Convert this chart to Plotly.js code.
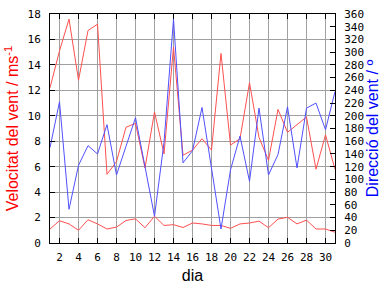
<!DOCTYPE html>
<html>
<head>
<meta charset="utf-8">
<script src="https://cdn.plot.ly/plotly-3.0.1.min.js"></script>
<style>html,body{margin:0;padding:0;background:#fff;}#chart{width:384px;height:288px;}</style>
</head>
<body>
<div id="chart"></div>
<script>
var days = [1,2,3,4,5,6,7,8,9,10,11,12,13,14,15,16,17,18,19,20,21,22,23,24,25,26,27,28,29,30,31];
var windMax = [12.2,15.1,17.6,12.8,16.7,17.2,5.4,6.4,9.1,9.4,5.9,10.3,7.0,15.4,6.9,7.3,8.2,7.3,14.9,7.7,8.2,12.6,8.3,6.5,10.5,8.7,9.3,9.9,5.8,8.5,5.8];
var windMean = [1.1,1.75,1.5,1.0,1.83,1.5,1.1,1.25,1.77,1.9,1.2,2.1,1.38,1.44,1.22,1.57,1.5,1.38,1.38,1.15,1.5,1.57,1.72,1.2,1.88,2.02,1.5,1.8,1.1,1.1,0.85];
var windDir = [150,222,53,122,153,140,186,107,152,197,120,42,158,352,126,145,213,120,22,115,168,97,212,107,139,214,118,212,220,178,238];

var red = '#ff5050', blue = '#5050ff';
var traces = [
  {x: days, y: windMax, type: 'scatter', mode: 'lines', line: {color: red, width: 1}, yaxis: 'y', hoverinfo: 'skip'},
  {x: days, y: windMean, type: 'scatter', mode: 'lines', line: {color: red, width: 1}, yaxis: 'y', hoverinfo: 'skip'},
  {x: days, y: windDir, type: 'scatter', mode: 'lines', line: {color: blue, width: 1}, yaxis: 'y2', hoverinfo: 'skip'}
];
var tickFont = {family: 'DejaVu Sans Mono', size: 11, color: '#000'};
var layout = {
  width: 384, height: 288,
  margin: {l: 50, r: 49, t: 14, b: 45, pad: 0},
  paper_bgcolor: '#fff', plot_bgcolor: '#fff',
  showlegend: false,
  xaxis: {
    range: [1, 31], tick0: 0, dtick: 2, ticks: 'inside', ticklen: 5, tickcolor: '#000',
    showline: true, linecolor: '#000', linewidth: 1, mirror: 'ticks',
    showgrid: true, gridcolor: '#a0a0a0', gridwidth: 1, zeroline: false,
    tickfont: tickFont, ticklabelstandoff: 4,
    title: {text: 'dia', font: {family: 'Liberation Sans', size: 16, color: '#000'}, standoff: 6}
  },
  yaxis: {
    range: [0, 18], tick0: 0, dtick: 2, ticks: 'inside', ticklen: 5, tickcolor: '#000',
    showline: true, linecolor: '#000', linewidth: 1, mirror: true,
    showgrid: true, gridcolor: '#a0a0a0', gridwidth: 1, zeroline: false,
    tickfont: tickFont, ticklabelstandoff: 6,
    title: {text: 'Velocitat del vent / ms<sup>-1</sup>', font: {family: 'Liberation Sans', size: 16, color: 'red'}, standoff: 4}
  },
  yaxis2: {
    range: [0, 360], tick0: 0, dtick: 20, ticks: 'inside', ticklen: 5, tickcolor: '#000',
    overlaying: 'y', side: 'right', showline: true, linecolor: '#000', linewidth: 1,
    showgrid: false, zeroline: false,
    tickfont: tickFont, ticklabelstandoff: 6,
    title: {text: 'Direcció del vent / º', font: {family: 'Liberation Sans', size: 16, color: 'blue'}, standoff: 2}
  }
};
Plotly.newPlot('chart', traces, layout, {staticPlot: true, displayModeBar: false});
</script>
</body>
</html>
